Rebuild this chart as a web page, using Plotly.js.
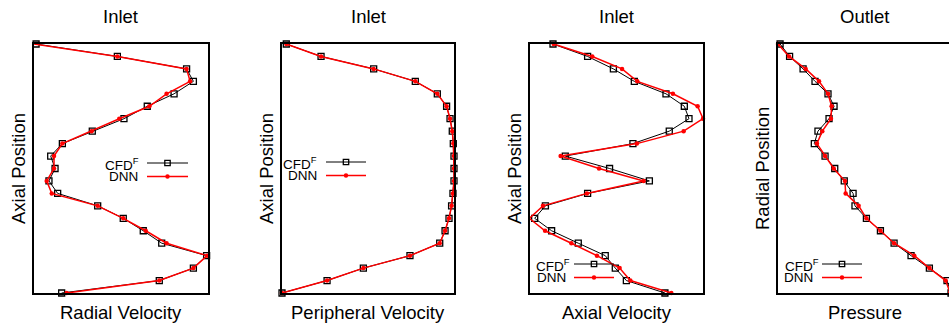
<!DOCTYPE html>
<html><head><meta charset="utf-8">
<script src="https://cdn.plot.ly/plotly-3.0.1.min.js"></script>
<style>html,body{margin:0;padding:0;overflow:hidden;background:#fff}#chart{width:955px;height:323px}</style>
</head><body><div id="chart"></div>
<script>
// ---------- data ----------
const panelTitles = ["Inlet", "Inlet", "Inlet", "Outlet"];
const xTitles = ["Radial Velocity", "Peripheral Velocity", "Axial Velocity", "Pressure"];
const yTitles = ["Axial Position", "Axial Position", "Axial Position", "Radial Position"];
const seriesNames = ["CFD<sup><span style=\"color:#000000\">F</span></sup>", "DNN"];

const positions = [0, 1, 2, 3, 4, 5, 6, 7, 8, 9, 10, 11, 12, 13, 14, 15, 16, 17, 18, 19, 20];

const radialVelocityCFD = [0.012, 0.479, 0.877, 0.916, 0.805, 0.651, 0.517, 0.335, 0.163, 0.096, 0.121, 0.086, 0.136, 0.366, 0.513, 0.628, 0.734, 0.992, 0.916, 0.720, 0.159];
const radialVelocityDNN = [-0.004, 0.479, 0.877, 0.897, 0.762, 0.663, 0.490, 0.331, 0.163, 0.115, 0.115, 0.073, 0.102, 0.366, 0.513, 0.642, 0.762, 0.995, 0.916, 0.720, 0.188];

const peripheralVelocityCFD = [0.025, 0.227, 0.533, 0.775, 0.903, 0.957, 0.977, 0.990, 0.996, 1.000, 1.000, 1.000, 0.994, 0.986, 0.971, 0.948, 0.917, 0.744, 0.473, 0.262, 0.000];
const peripheralVelocityDNN = [0.025, 0.227, 0.533, 0.775, 0.903, 0.957, 0.977, 0.990, 0.996, 1.000, 1.000, 1.000, 0.994, 0.986, 0.971, 0.948, 0.917, 0.744, 0.473, 0.262, 0.000];

const axialVelocityCFD = [0.133, 0.333, 0.482, 0.603, 0.786, 0.892, 0.919, 0.805, 0.595, 0.204, 0.460, 0.690, 0.333, 0.089, 0.027, 0.125, 0.279, 0.435, 0.493, 0.557, 0.780];
const axialVelocityDNN = [0.137, 0.360, 0.532, 0.620, 0.826, 0.969, 1.000, 0.888, 0.618, 0.177, 0.399, 0.657, 0.329, 0.075, -0.004, 0.087, 0.239, 0.387, 0.518, 0.580, 0.817];

const pressureCFD = [0.012, 0.067, 0.145, 0.214, 0.289, 0.324, 0.295, 0.231, 0.210, 0.272, 0.328, 0.383, 0.434, 0.445, 0.511, 0.592, 0.671, 0.769, 0.875, 0.977, 1.000];
const pressureDNN = [0.000, 0.064, 0.160, 0.237, 0.289, 0.310, 0.306, 0.256, 0.225, 0.272, 0.322, 0.387, 0.391, 0.466, 0.511, 0.592, 0.671, 0.788, 0.875, 0.969, 0.995];

const panelSeries = [
  [radialVelocityCFD, radialVelocityDNN],
  [peripheralVelocityCFD, peripheralVelocityDNN],
  [axialVelocityCFD, axialVelocityDNN],
  [pressureCFD, pressureDNN]
];

// ---------- layout (pixels) ----------
const W = 955, H = 323;
const px = v => v / W;
const py = v => (H - v) / H;
const panelX = [[34, 208], [282, 454], [530, 703], [778, 951]];
const plotTop = 44, plotBottom = 293;
// legend: [line x0, line x1, CFD row y, text right edge CFD, text right edge DNN]
const legendPos = [
  [147, 188, 163, 140, 139],
  [326, 366, 162, 318, 318],
  [574, 614, 264, 571, 567],
  [822, 862, 264, 820, 814]
];
const rowGap = 13.5;
const FONT = "Liberation Sans, Arial, Helvetica, sans-serif";

const traces = [];
const layout = {
  width: W, height: H,
  margin: {l: 0, r: 0, t: 0, b: 0},
  paper_bgcolor: "#fff", plot_bgcolor: "#fff",
  showlegend: false,
  font: {family: FONT, color: "#000"},
  annotations: [], shapes: []
};

for (let i = 0; i < 4; i++) {
  const n = i === 0 ? "" : String(i + 1);
  const xa = "x" + n, ya = "y" + n;
  const [cfd, dnn] = panelSeries[i];
  traces.push({
    x: cfd, y: positions, xaxis: xa, yaxis: ya, name: "CFD", type: "scatter",
    mode: "lines+markers", cliponaxis: false,
    line: {color: "#000", width: 1},
    marker: {symbol: "square-open", size: 6, color: "#000", line: {width: 1.3, color: "#000"}}
  });
  traces.push({
    x: dnn, y: positions, xaxis: xa, yaxis: ya, name: "DNN", type: "scatter",
    mode: "lines+markers", cliponaxis: false,
    line: {color: "#ff0000", width: 1.5},
    marker: {symbol: "circle", size: 4.5, color: "#ff0000"}
  });
  const axCommon = {
    showline: true, mirror: true, linecolor: "#000", linewidth: 1.8,
    showticklabels: false, ticks: "", showgrid: false, zeroline: false, fixedrange: true
  };
  layout["xaxis" + n] = Object.assign({}, axCommon, {
    domain: [px(panelX[i][0]), px(panelX[i][1])], range: [0, 1], anchor: ya
  });
  layout["yaxis" + n] = Object.assign({}, axCommon, {
    domain: [py(plotBottom), py(plotTop)], range: [20, 0], anchor: xa
  });

  const cx = (panelX[i][0] + panelX[i][1]) / 2;
  layout.annotations.push({
    text: panelTitles[i], xref: "paper", yref: "paper", x: px(cx), y: py(16),
    xanchor: "center", yanchor: "middle", showarrow: false, font: {size: 18.5, family: FONT}
  });
  layout.annotations.push({
    text: xTitles[i], xref: "paper", yref: "paper", x: px(cx), y: py(312),
    xanchor: "center", yanchor: "middle", showarrow: false, font: {size: 18.5, family: FONT}
  });
  layout.annotations.push({
    text: yTitles[i], xref: "paper", yref: "paper", x: px(panelX[i][0] - 16), y: py(169),
    xanchor: "center", yanchor: "middle", textangle: -90, showarrow: false, font: {size: 18.5, family: FONT}
  });

  // legend
  const [lx0, lx1, ry, tr1, tr2] = legendPos[i];
  const mx = (lx0 + lx1) / 2;
  const rows = [ry, ry + rowGap];
  layout.annotations.push({
    text: seriesNames[0], xref: "paper", yref: "paper", x: px(tr1 + 1), y: py(rows[0] + 0.5),
    xanchor: "right", yanchor: "middle", showarrow: false, font: {size: 13.5, family: FONT, color: "#000"}
  });
  layout.annotations.push({
    text: seriesNames[1], xref: "paper", yref: "paper", x: px(tr2 + 1), y: py(rows[1]),
    xanchor: "right", yanchor: "middle", showarrow: false, font: {size: 13.5, family: FONT, color: "#000"}
  });
  layout.shapes.push({type: "line", xref: "paper", yref: "paper",
    x0: px(lx0), x1: px(lx1), y0: py(rows[0]), y1: py(rows[0]), line: {color: "#000", width: 1}});
  layout.shapes.push({type: "rect", xref: "paper", yref: "paper",
    x0: px(mx - 2.7), x1: px(mx + 2.7), y0: py(rows[0] - 2.7), y1: py(rows[0] + 2.7), line: {color: "#000", width: 1.3}});
  layout.shapes.push({type: "line", xref: "paper", yref: "paper",
    x0: px(lx0), x1: px(lx1), y0: py(rows[1]), y1: py(rows[1]), line: {color: "#ff0000", width: 1.5}});
  layout.shapes.push({type: "circle", xref: "paper", yref: "paper",
    x0: px(mx - 2.2), x1: px(mx + 2.2), y0: py(rows[1] - 2.2), y1: py(rows[1] + 2.2),
    fillcolor: "#ff0000", line: {color: "#ff0000", width: 0}});
}

Plotly.newPlot("chart", traces, layout, {staticPlot: true, displayModeBar: false});
</script>
</body></html>
